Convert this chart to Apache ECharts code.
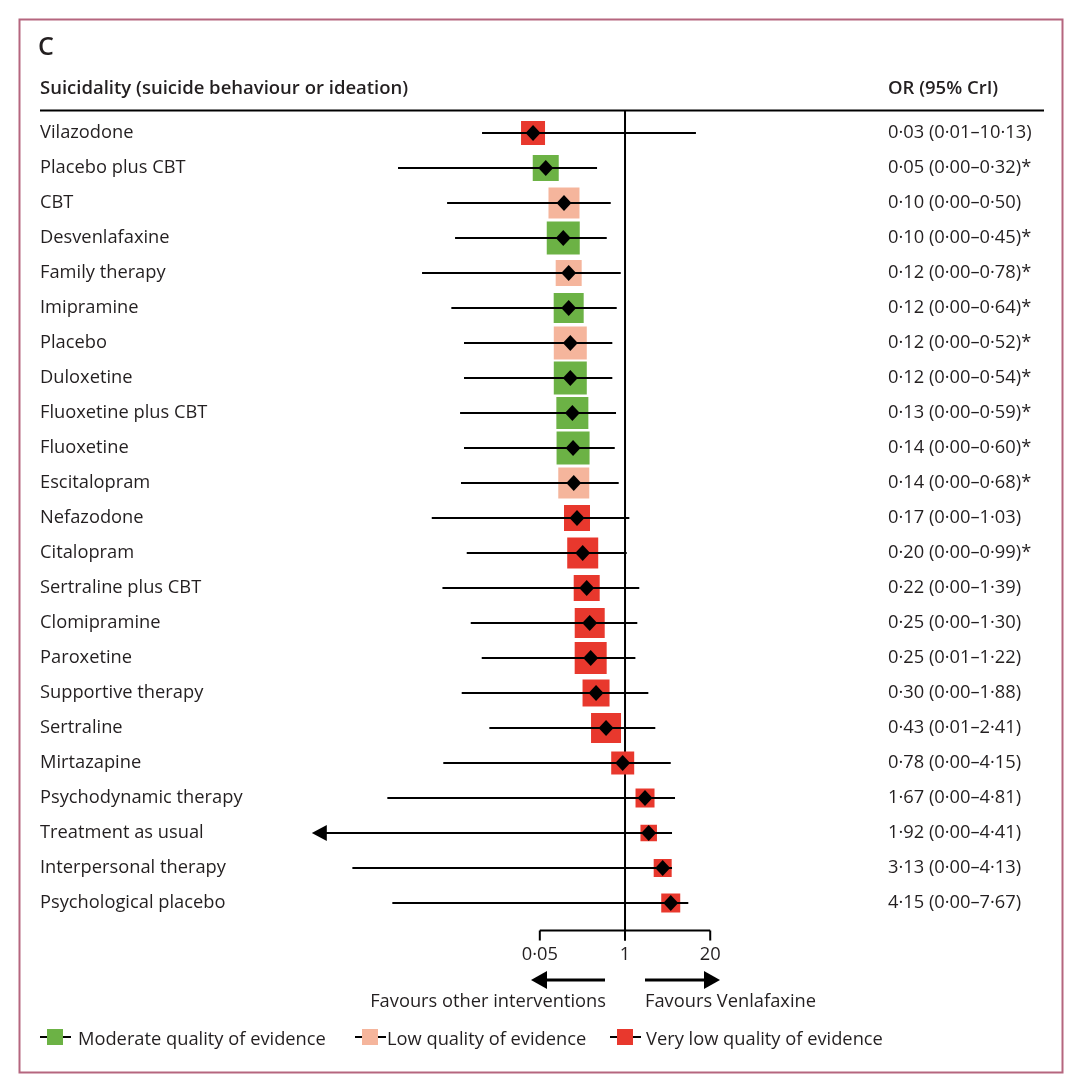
<!DOCTYPE html>
<html>
<head>
<meta charset="utf-8">
<script src="https://cdn.jsdelivr.net/npm/echarts@6/dist/echarts.min.js"></script>
<style>
  html, body { margin: 0; padding: 0; background: #fff; }
  #chart { width: 1080px; height: 1082px; }
</style>
</head>
<body>
<div id="chart"></div>
<script>
// ---------- data ----------
const treatments = [
  'Vilazodone', 'Placebo plus CBT', 'CBT', 'Desvenlafaxine', 'Family therapy', 'Imipramine',
  'Placebo', 'Duloxetine', 'Fluoxetine plus CBT', 'Fluoxetine', 'Escitalopram', 'Nefazodone',
  'Citalopram', 'Sertraline plus CBT', 'Clomipramine', 'Paroxetine', 'Supportive therapy',
  'Sertraline', 'Mirtazapine', 'Psychodynamic therapy', 'Treatment as usual',
  'Interpersonal therapy', 'Psychological placebo'
];
const orText = [
  '0·03 (0·01–10·13)', '0·05 (0·00–0·32)*', '0·10 (0·00–0·50)', '0·10 (0·00–0·45)*',
  '0·12 (0·00–0·78)*', '0·12 (0·00–0·64)*', '0·12 (0·00–0·52)*', '0·12 (0·00–0·54)*',
  '0·13 (0·00–0·59)*', '0·14 (0·00–0·60)*', '0·14 (0·00–0·68)*', '0·17 (0·00–1·03)',
  '0·20 (0·00–0·99)*', '0·22 (0·00–1·39)', '0·25 (0·00–1·30)', '0·25 (0·01–1·22)',
  '0·30 (0·00–1·88)', '0·43 (0·01–2·41)', '0·78 (0·00–4·15)', '1·67 (0·00–4·81)',
  '1·92 (0·00–4·41)', '3·13 (0·00–4·13)', '4·15 (0·00–7·67)'
];
// positions of the marks as drawn in the figure (odds ratio, log scale)
const pointOR = [0.0394, 0.0616, 0.117, 0.114, 0.138, 0.138, 0.146, 0.146, 0.157, 0.161, 0.165, 0.185,
  0.226, 0.260, 0.289, 0.299, 0.361, 0.513, 0.922, 2.02, 2.30, 3.76, 4.99];
const lowerCI = [0.00656, 0.000342, 0.00192, 0.00254, 0.000796, 0.00223, 0.00348, 0.00348, 0.00303,
  0.00348, 0.00313, 0.00112, 0.00383, 0.00163, 0.00441, 0.00649, 0.00321, 0.00848, 0.00168,
  0.000235, 0.0000165, 0.0000687, 0.000280];
const upperCI = [12.1, 0.374, 0.605, 0.526, 0.860, 0.747, 0.640, 0.640, 0.729, 0.697, 0.801, 1.163,
  1.062, 1.65, 1.54, 1.44, 2.27, 2.90, 4.99, 5.80, 5.22, 5.22, 9.25];
const lowerTruncated = [0,0,0,0,0,0,0,0,0,0,0,0,0,0,0,0,0,0,0,0,1,0,0];
// evidence quality: M moderate, L low, V very low
const quality = ['V','M','L','M','L','M','L','M','M','M','L','V','V','V','V','V','V','V','V','V','V','V','V'];
// relative weight of each estimate (square size)
const boxWeight = [24, 26, 31, 33, 26, 30, 33, 33, 32, 33, 31, 26, 31, 26, 30, 32, 27, 30, 23, 19, 16.5, 18, 19];
const tickValues = [0.05, 1, 20];
const tickLabels = ['0·05', '1', '20'];
const qualityNames = { M: 'Moderate quality of evidence', L: 'Low quality of evidence', V: 'Very low quality of evidence' };

// ---------- styles ----------
const qualityColors = { M: '#6cb245', L: '#f5b59c', V: '#e8382d' };
const FONT = '"Open Sans"';
const FS = 18.3;
const TXT = '#231f20';

const chart = echarts.init(document.getElementById('chart'), null, { renderer: 'canvas' });

const whiskerData = treatments.map((t, i) => [lowerCI[i], upperCI[i], i, lowerTruncated[i]]);
const boxData = treatments.map((t, i) => ({
  value: [pointOR[i], i],
  symbolSize: boxWeight[i],
  itemStyle: { color: qualityColors[quality[i]], opacity: 1 }
}));
const pointData = treatments.map((t, i) => [pointOR[i], i]);

const legendGraphics = [];
const legendItems = [
  { q: 'M', x: 40, tx: 78 },
  { q: 'L', x: 355, tx: 387 },
  { q: 'V', x: 610, tx: 646 }
];
legendItems.forEach(it => {
  legendGraphics.push({
    type: 'line', shape: { x1: it.x, y1: 1037, x2: it.x + 31, y2: 1037 },
    style: { stroke: '#000', lineWidth: 2 }, z: 10
  });
  legendGraphics.push({
    type: 'rect', shape: { x: it.x + 7, y: 1029, width: 16, height: 16 },
    style: { fill: qualityColors[it.q] }, z: 11
  });
  legendGraphics.push({
    type: 'text', x: it.tx, y: 1040,
    style: { text: qualityNames[it.q], font: FS + 'px ' + FONT, fill: TXT, textVerticalAlign: 'middle' }, z: 10
  });
});

const option = {
  backgroundColor: '#fff',
  animation: false,
  title: [
    { text: 'C', left: 38, top: 35, padding: 0, textStyle: { fontFamily: FONT, fontSize: 25, fontWeight: 600, color: TXT } },
    { text: 'Suicidality (suicide behaviour or ideation)', left: 40, top: 79, padding: 0,
      textStyle: { fontFamily: FONT, fontSize: 18.5, fontWeight: 600, color: TXT } },
    { text: 'OR (95% CrI)', left: 888, top: 79, padding: 0,
      textStyle: { fontFamily: FONT, fontSize: 18.5, fontWeight: 600, color: TXT } }
  ],
  grid: { left: 300, width: 420, top: 115.5, height: 805, containLabel: false },
  xAxis: {
    type: 'log', logBase: 10,
    min: 1.09e-5, max: 28.2,
    show: false
  },
  yAxis: [
    {
      type: 'category', data: treatments, inverse: true,
      axisLine: { show: false }, axisTick: { show: false }, splitLine: { show: false },
      axisLabel: { margin: 260, align: 'left', fontFamily: FONT, fontSize: FS, color: TXT, padding: [5, 0, 0, 0] }
    },
    {
      type: 'category', data: orText, inverse: true, position: 'right',
      axisLine: { show: false }, axisTick: { show: false }, splitLine: { show: false },
      axisLabel: { margin: 168, align: 'left', fontFamily: FONT, fontSize: FS, color: TXT, padding: [5, 0, 0, 0] }
    }
  ],
  series: [
    {
      // reference line at OR = 1 and the bottom scale bracket
      type: 'custom', clip: false, z: 1, silent: true,
      data: [[1, 0]],
      encode: { x: 0, y: 1 },
      renderItem: function (params, api) {
        const cs = params.coordSys;
        const bottom = cs.y + cs.height;
        const x1 = api.coord([1, 0])[0];
        const xs = tickValues.map(v => api.coord([v, 0])[0]);
        const children = [
          { type: 'line', shape: { x1: x1, y1: cs.y - 5, x2: x1, y2: bottom + 20 }, style: { stroke: '#000', lineWidth: 2 } },
          { type: 'line', shape: { x1: xs[0], y1: bottom + 10, x2: xs[xs.length - 1], y2: bottom + 10 }, style: { stroke: '#000', lineWidth: 2 } }
        ];
        xs.forEach((x, k) => {
          children.push({ type: 'line', shape: { x1: x, y1: bottom + 10, x2: x, y2: bottom + 20 }, style: { stroke: '#000', lineWidth: 2 } });
          children.push({ type: 'text', x: x, y: bottom + 34,
            style: { text: tickLabels[k], font: FS + 'px ' + FONT, fill: TXT, textAlign: 'center', textVerticalAlign: 'middle' } });
        });
        return { type: 'group', children: children };
      }
    },
    {
      name: 'box', type: 'scatter', symbol: 'rect', z: 2, silent: true,
      itemStyle: { opacity: 1 },
      data: boxData
    },
    {
      // credible intervals
      type: 'custom', clip: false, z: 3, silent: true,
      data: whiskerData,
      encode: { x: [0, 1], y: 2 },
      renderItem: function (params, api) {
        const idx = api.value(2);
        const p1 = api.coord([api.value(0), idx]);
        const p2 = api.coord([api.value(1), idx]);
        const trunc = api.value(3) === 1;
        const children = [{
          type: 'line',
          shape: { x1: trunc ? p1[0] + 10 : p1[0], y1: p1[1], x2: p2[0], y2: p2[1] },
          style: { stroke: '#000', lineWidth: 2 }
        }];
        if (trunc) {
          children.push({ type: 'polygon',
            shape: { points: [[p1[0], p1[1]], [p1[0] + 15, p1[1] - 8], [p1[0] + 15, p1[1] + 8]] },
            style: { fill: '#000' } });
        }
        return { type: 'group', children: children };
      }
    },
    {
      name: 'point', type: 'scatter', symbol: 'diamond', symbolSize: [15, 16], z: 4, silent: true,
      itemStyle: { color: '#000', opacity: 1 },
      data: pointData
    }
  ],
  graphic: [
    { type: 'rect', shape: { x: 19.5, y: 19.5, width: 1043, height: 1053 },
      style: { fill: 'none', stroke: '#b5667f', lineWidth: 2 }, z: 0 },
    { type: 'line', shape: { x1: 40, y1: 110.5, x2: 1044, y2: 110.5 }, style: { stroke: '#000', lineWidth: 2 }, z: 10 },
    // direction arrows
    { type: 'line', shape: { x1: 545, y1: 980, x2: 605, y2: 980 }, style: { stroke: '#000', lineWidth: 3 }, z: 10 },
    { type: 'polygon', shape: { points: [[531, 980], [547, 971], [547, 989]] }, style: { fill: '#000' }, z: 10 },
    { type: 'line', shape: { x1: 645, y1: 980, x2: 706, y2: 980 }, style: { stroke: '#000', lineWidth: 3 }, z: 10 },
    { type: 'polygon', shape: { points: [[720, 980], [704, 971], [704, 989]] }, style: { fill: '#000' }, z: 10 },
    { type: 'text', x: 606, y: 1002, style: { text: 'Favours other interventions', font: FS + 'px ' + FONT, fill: TXT, textAlign: 'right', textVerticalAlign: 'middle' }, z: 10 },
    { type: 'text', x: 645, y: 1002, style: { text: 'Favours Venlafaxine', font: FS + 'px ' + FONT, fill: TXT, textAlign: 'left', textVerticalAlign: 'middle' }, z: 10 }
  ].concat(legendGraphics)
};

chart.setOption(option);
</script>
</body>
</html>
